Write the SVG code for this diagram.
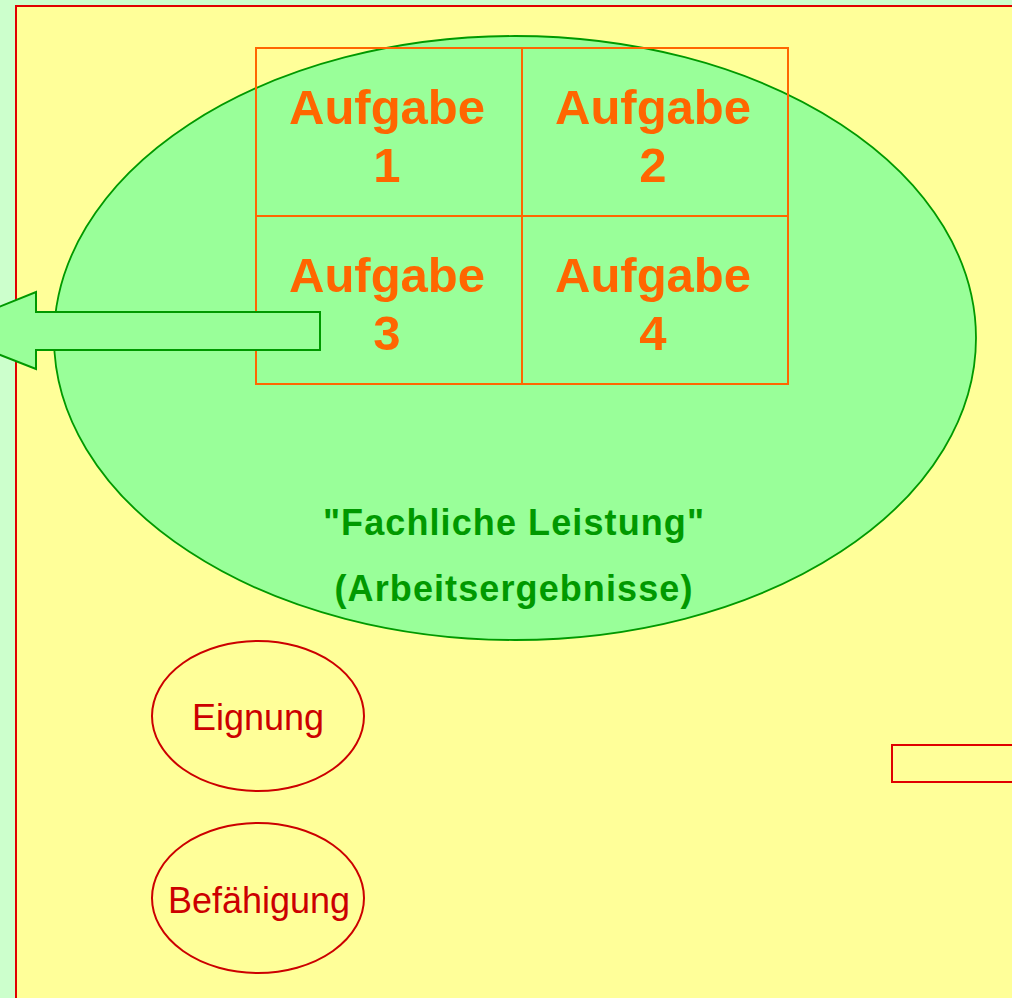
<svg xmlns="http://www.w3.org/2000/svg" width="1012" height="998" viewBox="0 0 1012 998">
<style>
.task{font-family:"Liberation Sans",Arial,sans-serif;font-weight:bold;font-size:49px;fill:#ff6600;text-anchor:middle}
.green{font-family:"Liberation Sans",Arial,sans-serif;font-weight:bold;font-size:36px;fill:#009900;text-anchor:middle;letter-spacing:1.1px}
.red{font-family:"Liberation Sans",Arial,sans-serif;font-size:36px;fill:#cc0000;text-anchor:middle}
.oval{fill:none;stroke:#cc0000;stroke-width:2}
.cell{fill:none;stroke:#ff6600;stroke-width:2}
</style>
<rect x="0" y="0" width="1012" height="998" fill="#ccffcc"/>
<rect id="frame" x="16" y="6" width="1010" height="1010" fill="#ffff99" stroke="#e00000" stroke-width="2"/>
<g id="leistung">
<ellipse cx="515" cy="338" rx="461" ry="302" fill="#99ff99" stroke="#009900" stroke-width="1.8"/>
<text class="green" x="514" y="535">"Fachliche Leistung"</text>
<text class="green" x="514" y="601">(Arbeitsergebnisse)</text>
</g>
<g id="aufgaben">
<rect class="cell" x="256" y="48" width="266" height="168"/>
<rect class="cell" x="522" y="48" width="266" height="168"/>
<rect class="cell" x="256" y="216" width="266" height="168"/>
<rect class="cell" x="522" y="216" width="266" height="168"/>
<text class="task" x="387" y="124">Aufgabe</text>
<text class="task" x="387" y="182">1</text>
<text class="task" x="653" y="124">Aufgabe</text>
<text class="task" x="653" y="182">2</text>
<text class="task" x="387" y="292">Aufgabe</text>
<text class="task" x="387" y="350">3</text>
<text class="task" x="653" y="292">Aufgabe</text>
<text class="task" x="653" y="350">4</text>
</g>
<g id="connectors">
<polygon points="320,312 36,312 36,292 -61,331 36,369 36,350 320,350" fill="#99ff99" stroke="#009900" stroke-width="2"/>
</g>
<g id="eignung">
<ellipse class="oval" cx="258" cy="716" rx="106" ry="75"/>
<text class="red" x="258" y="730">Eignung</text>
</g>
<g id="befaehigung">
<ellipse class="oval" cx="258" cy="898" rx="106" ry="75"/>
<text class="red" x="259" y="913">Befähigung</text>
</g>
<g id="box">
<rect x="892" y="745" width="140" height="37" fill="none" stroke="#e00000" stroke-width="2"/>
</g>
</svg>
